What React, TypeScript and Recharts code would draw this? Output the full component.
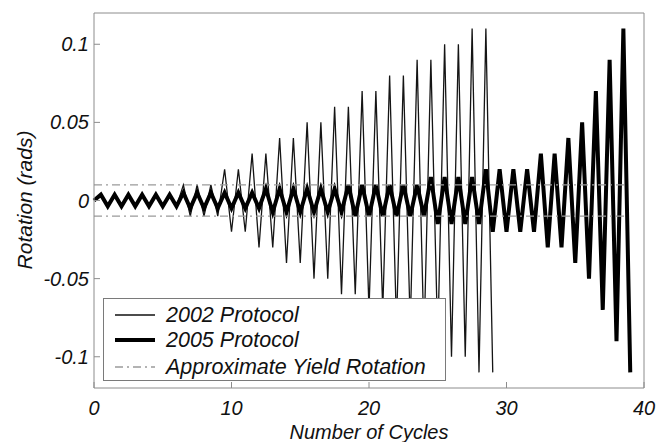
import { LineChart, Line, XAxis, YAxis, Legend } from 'recharts';

// peak rotation of each cycle (rads)
const amp2002 = [
    0.00375, 0.00375, 0.00375, 0.00375, 0.00375, 0.00375,
    0.01, 0.01, 0.01,
    0.02, 0.02, 0.03, 0.03, 0.04, 0.04, 0.05, 0.05, 0.06, 0.06,
    0.07, 0.07, 0.08, 0.08, 0.09, 0.09, 0.1, 0.1, 0.11, 0.11,
];

const amp2005 = [
    0.00375, 0.00375, 0.00375, 0.00375, 0.00375, 0.00375,
    0.005, 0.005, 0.005, 0.005, 0.005, 0.005,
    0.0075, 0.0075, 0.0075, 0.0075, 0.0075, 0.0075,
    0.01, 0.01, 0.01, 0.01, 0.01, 0.01,
    0.015, 0.015, 0.015, 0.015,
    0.02, 0.02, 0.02, 0.02,
    0.03, 0.03, 0.04, 0.05, 0.07, 0.09, 0.11,
];

const yieldRotation = 0.01;
const yieldExtent = [0, 38.8];

const xTicks = [0, 10, 20, 30, 40];
const yTicks = [-0.1, -0.05, 0, 0.05, 0.1];

// each cycle: push to +amp half way, back to -amp at the end of the cycle
const toPoints = (amps: number[]) => {
    const pts = [{ x: 0, y: 0 }];
    amps.forEach((a, i) => {
        pts.push({ x: i + 0.5, y: a });
        pts.push({ x: i + 1, y: -a });
    });
    return pts;
};

const data2002 = toPoints(amp2002);
const data2005 = toPoints(amp2005);
const yieldUpper = yieldExtent.map(x => ({ x, y: yieldRotation }));
const yieldLower = yieldExtent.map(x => ({ x, y: -yieldRotation }));

const FONT = '"Liberation Sans", Arial, Helvetica, sans-serif';
const AXIS = '#8c8c8c';
const tickStyle = { fill: '#111', fontSize: 20, fontStyle: 'italic', fontFamily: FONT };

const LegendBox = () => {
    const rows = [
        { label: '2002 Protocol', width: 1.3, color: '#111', dash: undefined, top: 16 },
        { label: '2005 Protocol', width: 4.2, color: '#000', dash: undefined, top: 41 },
        { label: 'Approximate Yield Rotation', width: 1.3, color: '#9a9a9a', dash: '8 4 2 4', top: 68 },
    ];
    return (
        <div style={{ position: 'relative', width: 343, height: 83, boxSizing: 'border-box', border: '1px solid #7a7a7a', background: '#fff' }}>
            {rows.map(r => (
                <div key={r.label}>
                    <svg width={40} height={8} style={{ position: 'absolute', left: 11, top: r.top - 4 }}>
                        <line x1={0} y1={4} x2={40} y2={4} stroke={r.color} strokeWidth={r.width} strokeDasharray={r.dash} />
                    </svg>
                    <span style={{ position: 'absolute', left: 62, top: r.top - 13, fontSize: 21.5, lineHeight: '26px', fontStyle: 'italic', fontFamily: FONT, color: '#111', whiteSpace: 'nowrap' }}>
                        {r.label}
                    </span>
                </div>
            ))}
        </div>
    );
};

const App = () => (
    <div style={{ position: 'absolute', left: 0, top: 0, width: 656, height: 442, background: '#fff' }}>
        <LineChart width={656} height={442} margin={{ top: 0, right: 0, bottom: 0, left: 0 }}>
            <XAxis
                xAxisId={0}
                type="number"
                dataKey="x"
                domain={[0, 40]}
                ticks={xTicks}
                height={54}
                allowDuplicatedCategory={false}
                stroke={AXIS}
                tickSize={-6}
                tickMargin={19}
                tick={tickStyle}
                label={{ value: 'Number of Cycles', position: 'insideBottom', offset: 3, fill: '#111', fontSize: 20, fontStyle: 'italic', fontFamily: FONT }}
            />
            <XAxis
                xAxisId="top"
                orientation="top"
                type="number"
                dataKey="x"
                domain={[0, 40]}
                ticks={xTicks}
                height={13}
                stroke={AXIS}
                tickSize={-6}
                tick={false}
            />
            <YAxis
                yAxisId={0}
                type="number"
                domain={[-0.12, 0.12]}
                ticks={yTicks}
                width={94}
                stroke={AXIS}
                tickSize={-6}
                tickMargin={11}
                tick={tickStyle}
                label={{
                    content: () => (
                        <text x={32} y={200} transform="rotate(-90 32 200)" textAnchor="middle" fill="#111" fontSize={21} fontStyle="italic" fontFamily={FONT}>
                            Rotation (rads)
                        </text>
                    ),
                }}
            />
            <YAxis
                yAxisId="right"
                orientation="right"
                type="number"
                domain={[-0.12, 0.12]}
                ticks={yTicks}
                width={12}
                stroke={AXIS}
                tickSize={-6}
                tick={false}
            />
            <Line data={data2002} dataKey="y" type="linear" stroke="#151515" strokeWidth={1.3} dot={false} isAnimationActive={false} name="2002 Protocol" />
            <Line data={data2005} dataKey="y" type="linear" stroke="#000" strokeWidth={4} dot={false} isAnimationActive={false} name="2005 Protocol" />
            <Line data={yieldUpper} dataKey="y" type="linear" stroke="#9a9a9a" strokeWidth={1.3} strokeDasharray="8 4 2 4" dot={false} isAnimationActive={false} name="Approximate Yield Rotation" />
            <Line data={yieldLower} dataKey="y" type="linear" stroke="#9a9a9a" strokeWidth={1.3} strokeDasharray="8 4 2 4" dot={false} isAnimationActive={false} legendType="none" />
            <Legend
                layout="vertical"
                align="center"
                verticalAlign="middle"
                content={() => <LegendBox />}
                wrapperStyle={{ left: 103, top: 298, width: 343, height: 83 }}
            />
        </LineChart>
    </div>
);

export default App;
